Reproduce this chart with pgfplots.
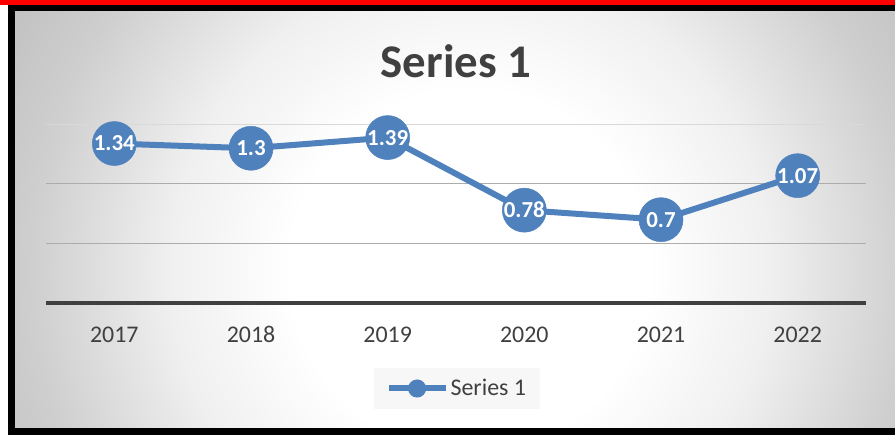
\documentclass[border=0pt]{standalone}
\usepackage{fontspec}
\setmainfont{Carlito}
\usepackage{pgfplots}
\pgfplotsset{compat=1.18}
\definecolor{sblue}{HTML}{4F81BD}
\definecolor{txtgray}{HTML}{404040}
\definecolor{legfill}{HTML}{F7F7F7}
\pgfdeclareradialshading{chartbg}{\pgfpointorigin}{color(0bp)=(white); color(9bp)=(white); color(15bp)=(gray!12); color(22bp)=(gray!38); color(27bp)=(gray!50); color(50bp)=(gray!50)}

\begin{document}
\begin{tikzpicture}[x=1bp,y=1bp]
% frame and gradient background
\fill[white] (0,0) rectangle (895,435);
\fill[red] (0,430) rectangle (895,435);
\fill[black] (8,0) rectangle (895,430);
\begin{scope}
  \clip (15,7) rectangle (895,423);
  \shade[shading=chartbg] (-30,-335) rectangle (970,665);
\end{scope}

\begin{axis}[
    at={(46bp,132bp)}, anchor=south west,
    scale only axis,
    width=820bp, height=178.5bp,
    xmin=-0.5, xmax=5.5,
    ymin=0, ymax=1.5,
    clip=false,
    axis x line=bottom,
    axis y line=left,
    y axis line style={draw=none},
    x axis line style={txtgray, line width=3.5bp, -},
    xtick={0,...,5},
    xticklabels={2017,2018,2019,2020,2021,2022},
    major tick length=0pt,
    xticklabel style={font=\fontsize{24}{28}\selectfont, text=txtgray, anchor=base, yshift=-40bp},
    ytick={0.5,1},
    yticklabels={},
    ymajorgrids,
    grid style={gray!65, line width=1bp},
    extra y ticks={1.5},
    extra y tick labels={},
    extra y tick style={grid style={gray!30, line width=1.2bp}},
    legend style={at={(0.501,-0.479)}, anchor=center, fill=legfill, draw=none,
        inner xsep=12bp, inner ysep=10bp,
        font=\fontsize{24}{28}\selectfont, text=txtgray},
    legend image code/.code={
        \draw[sblue, line width=6bp] (0bp,0bp) -- (57bp,0bp);
        \fill[sblue] (28.5bp,0bp) circle (6bp);
    },
]
\addplot[sblue, line width=6bp, mark=*, mark size=22bp,
    mark options={fill=sblue, draw=sblue, line width=0.5bp},
    nodes near coords, point meta=explicit symbolic,
    nodes near coords style={anchor=center, text=white, font=\fontsize{23}{26}\selectfont\bfseries}]
    coordinates {(0,1.34)[1.34] (1,1.3)[1.3] (2,1.39)[1.39] (3,0.78)[0.78] (4,0.7)[0.7] (5,1.07)[1.07]};
\addlegendentry{Series 1}
\end{axis}

\node[anchor=base, text=txtgray, inner sep=0] at (456,357) {\fontsize{47}{52}\selectfont\bfseries Series 1};
\pgfresetboundingbox
\useasboundingbox (0,0) rectangle (895,435);
\end{tikzpicture}
\end{document}
